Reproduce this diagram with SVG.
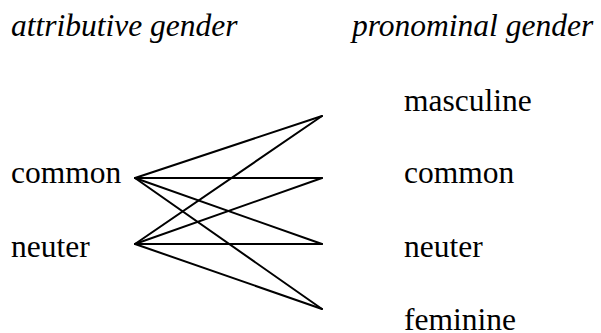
<svg xmlns="http://www.w3.org/2000/svg" width="601" height="333" viewBox="0 0 601 333">
<style>
.h{font-style:italic}
#connectors line{stroke:#000;stroke-width:2;stroke-linecap:round}
</style>
<rect width="601" height="333" fill="#fff"/>
<g font-family="Liberation Serif, Times New Roman, serif" font-size="31.5" fill="#000">
<g id="header-attributive"><text class="h" x="11" y="36">attributive gender</text></g>
<g id="header-pronominal"><text class="h" x="352" y="36">pronominal gender</text></g>
<g id="l-common"><text x="11" y="183">common</text></g>
<g id="l-neuter"><text x="11" y="256.5">neuter</text></g>
<g id="r-masculine"><text x="404" y="111">masculine</text></g>
<g id="r-common"><text x="404" y="183">common</text></g>
<g id="r-neuter"><text x="404" y="256.5">neuter</text></g>
<g id="r-feminine"><text x="404" y="329.5">feminine</text></g>
</g>
<g id="connectors">
<line x1="135" y1="178" x2="322" y2="116"/>
<line x1="135" y1="178" x2="322" y2="178"/>
<line x1="135" y1="178" x2="322" y2="244"/>
<line x1="135" y1="178" x2="322" y2="309"/>
<line x1="135" y1="244" x2="322" y2="116"/>
<line x1="135" y1="244" x2="322" y2="178"/>
<line x1="135" y1="244" x2="322" y2="244"/>
<line x1="135" y1="244" x2="322" y2="309"/>
</g>
</svg>
